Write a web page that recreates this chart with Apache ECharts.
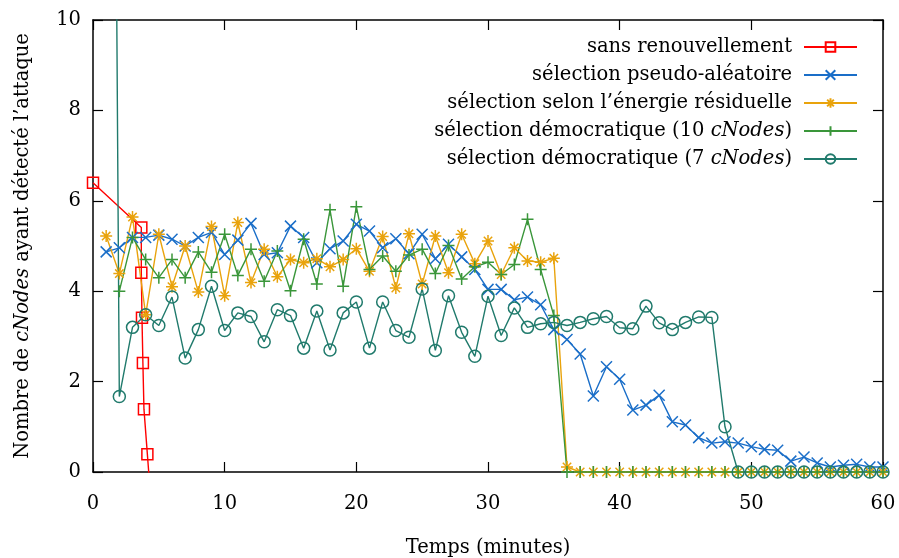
<!DOCTYPE html>
<html>
<head>
<meta charset="utf-8">
<script src="https://cdn.jsdelivr.net/npm/echarts@6/dist/echarts.min.js"></script>
<style>
  html, body { margin: 0; padding: 0; background: #fff; }
  #main { width: 899px; height: 558px; }
</style>
</head>
<body>
<div id="main"></div>
<script>
// values, one entry per minute (null = no point)
const minutes = [0,1,2,3,4,5,6,7,8,9,10,11,12,13,14,15,16,17,18,19,20,21,22,23,24,25,26,27,28,29,30,
  31,32,33,34,35,36,37,38,39,40,41,42,43,44,45,46,47,48,49,50,51,52,53,54,55,56,57,58,59,60];

const sansX = [0, 3.67, 3.67, 3.72, 3.79, 3.87, 4.13, 4.39];
const sansY = [6.4, 5.41, 4.41, 3.41, 2.41, 1.39, 0.39, -0.61];

const pseudo = [null, 4.87, 4.96, 5.19, 5.19, 5.24, 5.15, 5.0, 5.19, 5.3, 4.81, 5.13, 5.5, 4.81, 4.85,
  5.44, 5.19, 4.63, 4.94, 5.11, 5.48, 5.33, 4.96, 5.16, 4.83, 5.26, 4.72, 5.04, 4.76, 4.48, 4.04,
  4.04, 3.81, 3.87, 3.7, 3.15, 2.93, 2.61, 1.68, 2.33, 2.05, 1.37, 1.48, 1.7, 1.11, 1.04,
  0.76, 0.64, 0.67, 0.64, 0.56, 0.5, 0.48, 0.24, 0.33, 0.2, 0.11, 0.15, 0.17, 0.11, 0.11];

const energie = [null, 5.22, 4.39, 5.64, 3.48, 5.26, 4.1, 5.0, 3.98, 5.43, 3.9, 5.52, 4.19, 4.93, 4.32,
  4.7, 4.63, 4.72, 4.54, 4.7, 4.94, 4.44, 5.21, 4.07, 5.27, 4.16, 5.22, 4.41, 5.26, 4.61, 5.11,
  4.37, 4.96, 4.67, 4.64, 4.73, 0.11, 0, 0, 0, 0, 0, 0, 0, 0, 0,
  0, 0, 0, 0, 0, 0, 0, 0, 0, 0, 0, 0, 0, 0, 0];

const demo10 = [null, null, 4.0, 5.19, 4.7, 4.3, 4.7, 4.3, 4.87, 4.42, 5.26, 4.35, 4.93, 4.22, 4.89,
  4.01, 5.15, 4.16, 5.8, 4.11, 5.87, 4.48, 4.78, 4.44, 4.8, 4.93, 4.39, 5.01, 4.27, 4.54, 4.64,
  4.37, 4.59, 5.59, 4.48, 3.46, 0, 0, 0, 0, 0, 0, 0, 0, 0, 0,
  0, 0, 0, 0, 0, 0, 0, 0, 0, 0, 0, 0, 0, 0, 0];

const demo7 = [null, 45, 1.67, 3.2, 3.48, 3.24, 3.87, 2.52, 3.15, 4.11, 3.13, 3.52, 3.44, 2.88, 3.59,
  3.46, 2.74, 3.56, 2.7, 3.52, 3.76, 2.74, 3.76, 3.13, 2.98, 4.05, 2.69, 3.9, 3.09, 2.56, 3.89,
  3.02, 3.63, 3.2, 3.28, 3.31, 3.24, 3.31, 3.39, 3.44, 3.19, 3.17, 3.67, 3.3, 3.15, 3.31,
  3.43, 3.42, 1.0, 0, 0, 0, 0, 0, 0, 0, 0, 0, 0, 0, 0];

const seriesNames = [
  'sans renouvellement',
  'sélection pseudo-aléatoire',
  'sélection selon l’énergie résiduelle',
  'sélection démocratique (10 cNodes)',
  'sélection démocratique (7 cNodes)'
];
const xTicks = { min: 0, max: 60, step: 10 };
const yTicks = { min: 0, max: 10, step: 2 };

const font = 'DejaVu Serif';
const fontSize = 19.5;
const colors = ['#ff0000', '#1a6ec8', '#e9a30c', '#3a963a', '#207a6c'];

function pairs(vals) {
  return minutes.map((m, i) => [m, vals[i]]).filter(p => p[1] !== null);
}

// hollow markers drawn as paths so that lines behind them stay visible
const SQUARE = 'path://M0,0L10,0L10,10L0,10Z';
const CIRCLE = 'path://M10,5A5,5,0,1,1,0,5A5,5,0,1,1,10,5Z';
const CROSS = 'path://M0,0L10,10M10,0L0,10';
const STAR = 'path://M5,0L5,10M0,5L10,5M1.5,1.5L8.5,8.5M8.5,1.5L1.5,8.5';
const PLUS = 'path://M5,0L5,10M0,5L10,5';

function lineSeries(name, data, color, symbol, size) {
  return {
    name: name,
    type: 'line',
    data: data,
    symbol: symbol,
    symbolSize: size,
    showAllSymbol: true,
    clip: true,
    lineStyle: { color: color, width: 1.4 },
    itemStyle: { color: 'rgba(0,0,0,0)', borderColor: color, borderWidth: 1.5 },
    emphasis: { disabled: true },
    animation: false
  };
}

const myChart = echarts.init(document.getElementById('main'));

const axisLine = { show: true, onZero: false, lineStyle: { color: '#000', width: 1.5 } };
const axisTick = { show: true, inside: true, length: 10, lineStyle: { color: '#000', width: 1.2 } };
const italic = { i: { fontFamily: font, fontSize: fontSize, fontStyle: 'italic', color: '#000' } };

const option = {
  backgroundColor: '#fff',
  animation: false,
  grid: { left: 93, right: 16, top: 20, bottom: 86, outerBoundsMode: 'none' },
  legend: {
    orient: 'vertical',
    right: 41,
    top: 37,
    padding: 0,
    align: 'right',
    itemWidth: 53,
    itemHeight: 12,
    itemGap: 8,
    selectedMode: false,
    data: seriesNames,
    formatter: n => n.replace('cNodes', '{i|cNodes}'),
    textStyle: {
      fontFamily: font, fontSize: fontSize, color: '#000', lineHeight: 20, padding: [0, 7, 0, 0],
      rich: italic
    }
  },
  xAxis: [{
    type: 'value', min: xTicks.min, max: xTicks.max, interval: xTicks.step,
    position: 'bottom',
    name: 'Temps (minutes)', nameLocation: 'middle', nameGap: 66,
    nameTextStyle: { fontFamily: font, fontSize: fontSize, color: '#000' },
    axisLine: axisLine, axisTick: axisTick,
    axisLabel: { fontFamily: font, fontSize: fontSize, color: '#000', margin: 22 },
    splitLine: { show: false }
  }, {
    type: 'value', min: xTicks.min, max: xTicks.max, interval: xTicks.step,
    position: 'top',
    axisLine: axisLine, axisTick: axisTick,
    axisLabel: { show: false }, splitLine: { show: false }
  }],
  yAxis: [{
    type: 'value', min: yTicks.min, max: yTicks.max, interval: yTicks.step,
    position: 'left',
    name: 'Nombre de {i|cNodes} ayant détecté l’attaque', nameLocation: 'middle', nameGap: 60,
    nameTextStyle: { fontFamily: font, fontSize: fontSize, color: '#000', rich: italic },
    axisLine: axisLine, axisTick: axisTick,
    axisLabel: { fontFamily: font, fontSize: fontSize, color: '#000', margin: 12 },
    splitLine: { show: false }
  }, {
    type: 'value', min: yTicks.min, max: yTicks.max, interval: yTicks.step,
    position: 'right',
    axisLine: axisLine, axisTick: axisTick,
    axisLabel: { show: false }, splitLine: { show: false }
  }],
  series: [
    lineSeries(seriesNames[0], sansX.map((x, i) => [x, sansY[i]]), colors[0], SQUARE, 11),
    lineSeries(seriesNames[1], pairs(pseudo), colors[1], CROSS, 11),
    lineSeries(seriesNames[2], pairs(energie), colors[2], STAR, 12),
    lineSeries(seriesNames[3], pairs(demo10), colors[3], PLUS, 12),
    lineSeries(seriesNames[4], pairs(demo7), colors[4], CIRCLE, 12)
  ]
};

myChart.setOption(option);
</script>
</body>
</html>
